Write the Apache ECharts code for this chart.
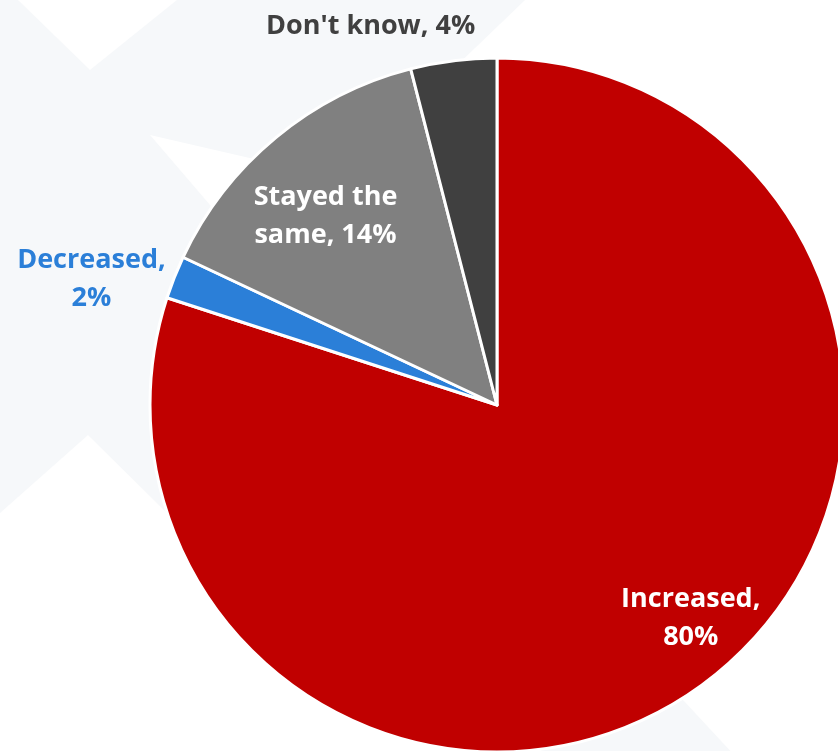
<!DOCTYPE html>
<html><head><meta charset="utf-8">
<script src="https://cdn.jsdelivr.net/npm/echarts@6/dist/echarts.min.js"></script>
<style>html,body{margin:0;padding:0;background:#fff}#main{width:838px;height:751px}</style>
</head><body><div id="main"></div>
<script>
const categories = ['Increased', 'Decreased', 'Stayed the same', "Don't know"];
const values = [80, 2, 14, 4];
const labelFormats = ['{b},\n{c}%', '{b},\n{c}%', 'Stayed the\nsame, {c}%', '{b}, {c}%'];
const sliceColors = ['#C00000', '#2B7FD8', '#808080', '#404040'];
const labelColors = ['#FFFFFF', '#2B7FD8', '#FFFFFF', '#404040'];
const labelPositions = ['inside', 'outside', 'inside', 'outside'];
const labelShift = [[90, 71], [-34, 8], [-59, -53], [-46, -20]];

const bg = '#F6F8FA';
const chart = echarts.init(document.getElementById('main'), null, {renderer: 'canvas'});
chart.setOption({
  backgroundColor: '#FFFFFF',
  animation: false,
  graphic: {
    elements: [
      {type: 'polygon', z: -10, silent: true,
       shape: {points: [[0,0],[525,0],[400,120],[497,405],[167,513],[88,435],[0,513]]}, style: {fill: bg}},
      {type: 'polygon', z: -9, silent: true,
       shape: {points: [[18,0],[177,0],[90,70]]}, style: {fill: '#FFFFFF'}},
      {type: 'polygon', z: -9, silent: true,
       shape: {points: [[150,135],[280,165],[240,240]]}, style: {fill: '#FFFFFF'}},
      {type: 'polygon', z: -10, silent: true,
       shape: {points: [[560,600],[683,700],[735,756],[540,756]]}, style: {fill: bg}}
    ]
  },
  series: [{
    type: 'pie',
    center: [497, 405],
    radius: 347,
    startAngle: 90,
    clockwise: true,
    avoidLabelOverlap: false,
    itemStyle: {borderColor: '#FFFFFF', borderWidth: 3},
    emphasis: {disabled: true},
    labelLayout: function (p) {
      const s = labelShift[p.dataIndex];
      return {dx: s[0], dy: s[1], align: 'center'};
    },
    data: categories.map((name, i) => ({
      name: name,
      value: values[i],
      itemStyle: {color: sliceColors[i]},
      label: {
        show: true,
        position: labelPositions[i],
        formatter: labelFormats[i],
        color: labelColors[i],
        fontFamily: 'Open Sans',
        fontWeight: 'bold',
        fontSize: 27,
        lineHeight: 38,
        width: 260,
        overflow: 'none',
        align: 'center',
        textBorderWidth: 0
      },
      labelLine: {show: false}
    }))
  }]
});
</script>
</body></html>
